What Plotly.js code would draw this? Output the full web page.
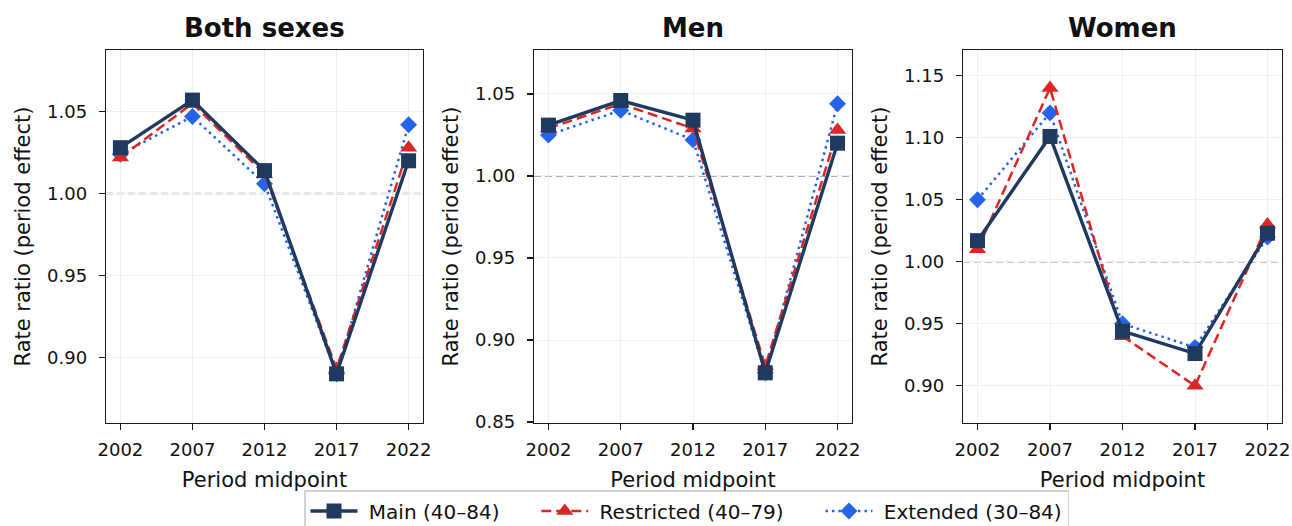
<!DOCTYPE html>
<html><head><meta charset="utf-8">
<script src="https://cdn.plot.ly/plotly-3.0.1.min.js"></script>
<style>html,body{margin:0;padding:0;background:#fff;overflow:hidden}#chart{width:1292px;height:526px}</style>
</head><body><div id="chart"></div>
<script>
const periods = [2002, 2007, 2012, 2017, 2022];
const panelTitles = ["Both sexes", "Men", "Women"];
const seriesNames = ["Main (40\u201384)", "Restricted (40\u201379)", "Extended (30\u201384)"];

const bothMain = [1.028, 1.057, 1.014, 0.890, 1.020];
const bothRestricted = [1.022, 1.055, 1.012, 0.893, 1.028];
const bothExtended = [1.024, 1.047, 1.006, 0.890, 1.042];

const menMain = [1.031, 1.046, 1.034, 0.880, 1.020];
const menRestricted = [1.029, 1.044, 1.029, 0.884, 1.028];
const menExtended = [1.025, 1.040, 1.022, 0.880, 1.044];

const womenMain = [1.017, 1.101, 0.944, 0.926, 1.023];
const womenRestricted = [1.010, 1.140, 0.940, 0.900, 1.030];
const womenExtended = [1.050, 1.120, 0.950, 0.931, 1.020];

const yTicks1 = [0.90, 0.95, 1.00, 1.05];
const yTicks2 = [0.85, 0.90, 0.95, 1.00, 1.05];
const yTicks3 = [0.90, 0.95, 1.00, 1.05, 1.10, 1.15];

const panels = [
  {data: [bothMain, bothRestricted, bothExtended], ticks: yTicks1, range: [0.860, 1.0876]},
  {data: [menMain, menRestricted, menExtended], ticks: yTicks2, range: [0.8494, 1.0768]},
  {data: [womenMain, womenRestricted, womenExtended], ticks: yTicks3, range: [0.870, 1.1707]}
];

const styles = [
  {color: '#1e3a5f', dash: 'solid', width: 3.4, symbol: 'square', size: 15},
  {color: '#dc2626', dash: '10px,5px', width: 2.5, symbol: 'triangle-up', size: 15},
  {color: '#2563eb', dash: '2.5px,4px', width: 2.5, symbol: 'diamond', size: 13}
];
// spacing around each legend entry (non-breaking spaces)
const NB = '\u00a0';
const legendLead = NB;
const legendGap = [NB.repeat(5), NB.repeat(5), ''];

const W = 1292, H = 526;
const xDomains = [[106, 423], [534, 852], [963, 1282]];
const yDom = [(H - 423) / H, (H - 50) / H];
const font = 'DejaVu Sans, sans-serif';
const ink = '#111';

const traces = [];
const layout = {
  width: W, height: H,
  margin: {l: 0, r: 0, t: 0, b: 0, autoexpand: false},
  paper_bgcolor: '#fff', plot_bgcolor: '#fff',
  font: {family: font, size: 18, color: ink},
  showlegend: true,
  legend: {
    orientation: 'h', x: 686.5 / W, xanchor: 'center', y: (H - 490) / H, yanchor: 'top',
    bordercolor: '#cfd2d6', borderwidth: 1.5, bgcolor: '#fff',
    font: {family: font, size: 20, color: ink},
    itemwidth: 47, traceorder: 'normal'
  },
  annotations: [], shapes: []
};

const drawOrder = [2, 1, 0];
panels.forEach((p, i) => {
  const xa = i === 0 ? 'x' : 'x' + (i + 1);
  const ya = i === 0 ? 'y' : 'y' + (i + 1);
  drawOrder.forEach(s => {
    const st = styles[s];
    traces.push({
      x: periods, y: p.data[s], xaxis: xa, yaxis: ya,
      type: 'scatter', mode: 'lines+markers',
      name: legendLead + seriesNames[s] + legendGap[s], legendgroup: 's' + s, showlegend: i === 0,
      legendrank: s + 1,
      line: {color: st.color, dash: st.dash, width: st.width},
      marker: {symbol: st.symbol, size: st.size, color: st.color}
    });
  });
  const xk = i === 0 ? 'xaxis' : 'xaxis' + (i + 1);
  const yk = i === 0 ? 'yaxis' : 'yaxis' + (i + 1);
  layout[xk] = {
    domain: [xDomains[i][0] / W, xDomains[i][1] / W], anchor: ya,
    range: [2001, 2023], tickvals: periods, ticktext: periods.map(String),
    showgrid: true, gridcolor: '#efefef', gridwidth: 1,
    showline: true, mirror: true, linecolor: '#1a1a1a', linewidth: 1.3,
    ticks: 'outside', ticklen: 6, tickwidth: 1.3, tickcolor: '#1a1a1a',
    ticklabelstandoff: 4,
    tickfont: {family: font, size: 18, color: ink},
    zeroline: false, automargin: false,
    title: {text: 'Period midpoint', font: {family: font, size: 21, color: ink}, standoff: 13}
  };
  layout[yk] = {
    domain: yDom, anchor: xa, range: p.range,
    tickvals: p.ticks, ticktext: p.ticks.map(v => v.toFixed(2)),
    showgrid: true, gridcolor: '#efefef', gridwidth: 1,
    showline: true, mirror: true, linecolor: '#1a1a1a', linewidth: 1.3,
    ticks: 'outside', ticklen: 6, tickwidth: 1.3, tickcolor: '#1a1a1a',
    ticklabelstandoff: 8,
    tickfont: {family: font, size: 18, color: ink},
    zeroline: false, automargin: false,
    title: {text: 'Rate ratio (period effect)', font: {family: font, size: 21, color: ink}, standoff: 10}
  };
  layout.shapes.push({
    type: 'line', xref: xa + ' domain', yref: ya, x0: 0, x1: 1, y0: 1, y1: 1,
    line: {color: '#8f95a5', width: 1.5, dash: '7px,4px'}, layer: 'below'
  });
  layout.annotations.push({
    text: '<b>' + panelTitles[i] + '</b>', xref: 'paper', yref: 'paper',
    x: (xDomains[i][0] + xDomains[i][1]) / 2 / W, y: (H - 28) / H,
    xanchor: 'center', yanchor: 'middle', showarrow: false,
    font: {family: font, size: 26, color: ink}
  });
});

Plotly.newPlot('chart', traces, layout, {displayModeBar: false, staticPlot: true});
</script>
</body></html>
